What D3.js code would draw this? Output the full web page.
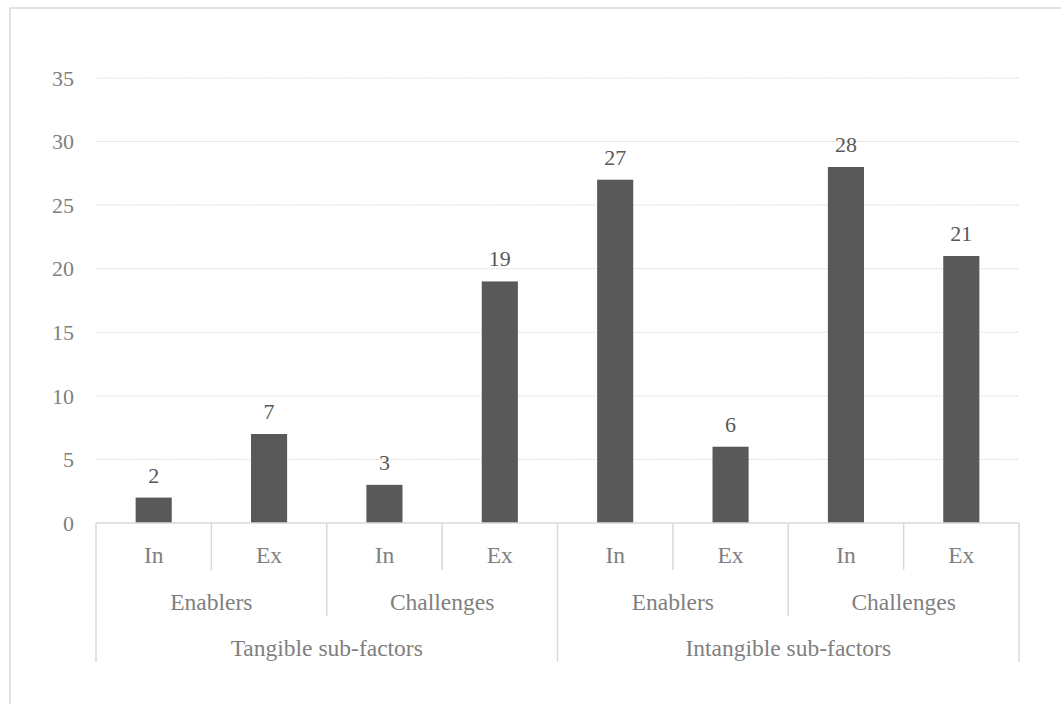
<!DOCTYPE html>
<html><head><meta charset="utf-8">
<script src="https://cdn.jsdelivr.net/npm/d3@7"></script>
<style>body{margin:0;background:#fff}svg{display:block}</style>
</head><body>
<script>
const level1 = ["In","Ex","In","Ex","In","Ex","In","Ex"];
const level2 = ["Enablers","Challenges","Enablers","Challenges"];
const level3 = ["Tangible sub-factors","Intangible sub-factors"];
const values = [2,7,3,19,27,6,28,21];
const yTicks = [0,5,10,15,20,25,30,35];

(function(){
const W=1061,H=704;
const FONT='"Palatino Linotype","Book Antiqua",Palatino,"Liberation Serif",serif';
const svg=d3.select("body").append("svg").attr("width",W).attr("height",H);
svg.append("rect").attr("x",10).attr("y",8).attr("width",W+20).attr("height",H+20)
  .attr("fill","#fff").attr("stroke","#d9d9d9").attr("stroke-width",1.5);

const pl=96,pr=1019,pt=78,pb=523;
const x=d3.scaleBand().domain(d3.range(values.length)).range([pl,pr]).paddingInner(0.687).paddingOuter(0.3435);
const xs=d3.scaleLinear().domain([0,values.length]).range([pl,pr]);
const y=d3.scaleLinear().domain([0,35]).range([pb,pt]);

svg.append("g").selectAll("line").data(yTicks.filter(d=>d>0)).join("line")
  .attr("x1",pl).attr("x2",pr).attr("y1",d=>y(d)).attr("y2",d=>y(d))
  .attr("stroke","#d9d9d9").attr("stroke-width",1).attr("stroke-dasharray","1.5,1");

svg.append("g").selectAll("text").data(yTicks).join("text")
  .attr("x",74).attr("y",d=>y(d)).attr("dy","0.35em").attr("text-anchor","end")
  .attr("font-family",FONT).attr("font-size",22).attr("fill","#7f7f7f").text(d=>d);

svg.append("g").selectAll("rect").data(values).join("rect")
  .attr("x",(d,i)=>x(i)).attr("width",x.bandwidth())
  .attr("y",d=>y(d)).attr("height",d=>y(0)-y(d)).attr("fill","#595959");

svg.append("g").selectAll("text").data(values).join("text")
  .attr("x",(d,i)=>x(i)+x.bandwidth()/2).attr("y",d=>y(d)-15).attr("text-anchor","middle")
  .attr("font-family",FONT).attr("font-size",22).attr("fill","#595959").text(d=>d);

const ax=svg.append("g").attr("stroke","#d9d9d9").attr("stroke-width",1.5);
ax.append("line").attr("x1",pl).attr("x2",pr).attr("y1",pb).attr("y2",pb);
for(let i=0;i<=values.length;i++){
  let y2=570;
  if(i%2===0) y2=616;
  if(i%4===0) y2=662;
  ax.append("line").attr("x1",xs(i)).attr("x2",xs(i)).attr("y1",pb).attr("y2",y2);
}
const lab=svg.append("g").attr("font-family",FONT).attr("font-size",23.5).attr("fill","#7f7f7f").attr("text-anchor","middle");
level1.forEach((t,i)=>lab.append("text").attr("x",xs(i+0.5)).attr("y",555).attr("dy","0.35em").text(t));
level2.forEach((t,i)=>lab.append("text").attr("x",xs(i*2+1)).attr("y",602).attr("dy","0.35em").text(t));
level3.forEach((t,i)=>lab.append("text").attr("x",xs(i*4+2)).attr("y",648).attr("dy","0.35em").text(t));
})();
</script>
</body></html>
